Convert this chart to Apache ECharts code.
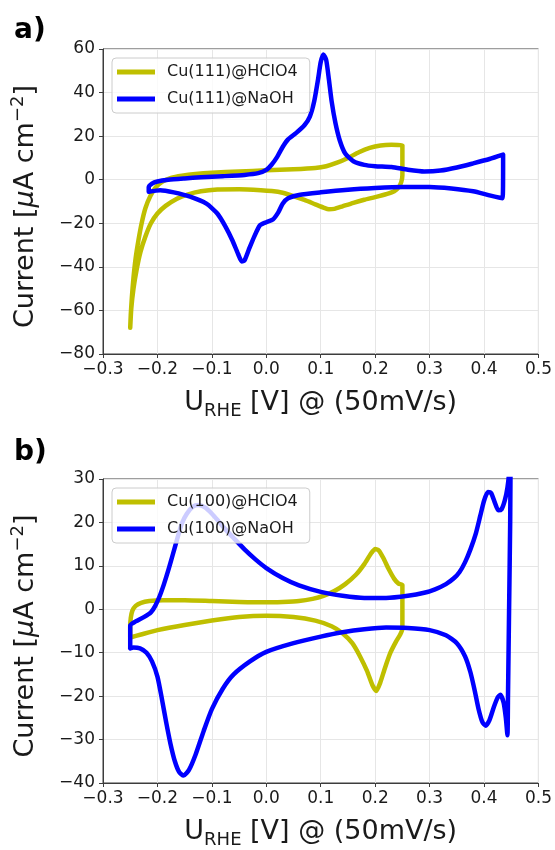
<!DOCTYPE html>
<html>
<head>
<meta charset="utf-8">
<script src="https://cdn.jsdelivr.net/npm/echarts@6/dist/echarts.min.js"></script>
<style>
  html, body { margin: 0; padding: 0; background: #fff; }
  #chart { width: 555px; height: 850px; }
</style>
</head>
<body>
<div id="chart"></div>
<script>
// Cyclic voltammograms of Cu single crystals, potential [V vs RHE] vs current density [µA cm^-2]

// Panel a) Cu(111)
const cu111HClO4 = [
  [-0.250,-68],[-0.249,-62],[-0.247,-54],[-0.244,-45],[-0.240,-36],[-0.235,-28],[-0.229,-20],
  [-0.222,-13],[-0.213,-7.5],[-0.203,-3.5],[-0.190,-0.8],[-0.175,0.8],[-0.155,1.8],[-0.130,2.6],
  [-0.100,3.2],[-0.050,3.8],[0.000,4.3],[0.050,4.8],[0.090,5.4],[0.110,6.2],[0.130,7.8],
  [0.150,10],[0.170,12.6],[0.190,14.6],[0.210,15.7],[0.230,16],[0.250,15.8],[0.250,8],
  [0.250,2],[0.248,-1],[0.243,-3.5],[0.235,-5.3],[0.222,-6.5],[0.200,-8],[0.180,-9.2],
  [0.160,-10.6],[0.140,-12.2],[0.125,-13.4],[0.115,-13.6],[0.105,-12.8],[0.090,-11.3],
  [0.070,-9.3],[0.050,-7.5],[0.030,-6],[0.010,-5.2],[-0.010,-4.8],[-0.050,-4.4],[-0.090,-4.5],
  [-0.120,-5.3],[-0.145,-6.8],[-0.165,-8.8],[-0.185,-12],[-0.200,-15.5],[-0.212,-20],
  [-0.222,-26],[-0.231,-33],[-0.238,-41],[-0.244,-50],[-0.248,-59],[-0.250,-68]
];
const cu111NaOH = [
  [-0.216,-5.5],[-0.216,-3.5],[-0.210,-1.8],[-0.200,-0.8],[-0.180,0],[-0.150,0.6],[-0.120,1.1],
  [-0.080,1.6],[-0.040,2.2],[-0.015,3],[0.000,4.5],[0.010,7],[0.020,10.5],[0.030,15],
  [0.040,18.5],[0.055,21.5],[0.070,25],[0.080,29],[0.088,36],[0.095,46],[0.100,54],
  [0.105,57.5],[0.110,55],[0.115,46],[0.120,36],[0.127,26],[0.135,18],[0.145,12],[0.160,8.5],
  [0.180,6.8],[0.200,6.2],[0.230,5.8],[0.260,4.6],[0.290,3.8],[0.320,4.2],[0.350,5.6],
  [0.380,7.5],[0.410,9.5],[0.435,11.5],[0.435,5],[0.434,-8.5],[0.410,-7.2],[0.380,-5.3],
  [0.340,-4],[0.300,-3.3],[0.250,-3.3],[0.200,-3.8],[0.150,-4.6],[0.100,-5.8],[0.060,-7],
  [0.040,-8.5],[0.030,-11],[0.022,-15],[0.012,-18.3],[0.000,-19.5],[-0.012,-21],[-0.022,-26],
  [-0.032,-32],[-0.040,-37],[-0.045,-37.5],[-0.052,-34],[-0.062,-28],[-0.075,-21.5],
  [-0.090,-15.5],[-0.110,-11],[-0.140,-7.8],[-0.170,-5.8],[-0.195,-4.8],[-0.216,-5.5]
];

// Panel b) Cu(100)
const cu100HClO4 = [
  [-0.250,-6.5],[-0.250,-4],[-0.249,-2],[-0.246,-0.3],[-0.240,0.8],[-0.230,1.5],[-0.215,1.9],
  [-0.190,2.1],[-0.150,2.1],[-0.100,1.9],[-0.050,1.7],[0.000,1.6],[0.030,1.7],[0.060,1.9],
  [0.085,2.4],[0.105,3.1],[0.125,4.2],[0.145,5.8],[0.165,8],[0.180,10.4],[0.192,12.8],
  [0.200,13.9],[0.207,13.5],[0.215,11.8],[0.225,9.2],[0.235,7],[0.243,5.9],[0.250,5.6],
  [0.250,0],[0.250,-4.5],[0.246,-5.8],[0.238,-7.5],[0.228,-10],[0.218,-13.5],[0.209,-17],
  [0.202,-18.8],[0.195,-17.5],[0.185,-14.2],[0.172,-10.8],[0.158,-7.8],[0.140,-5.5],
  [0.120,-3.9],[0.090,-2.6],[0.050,-1.8],[0.000,-1.5],[-0.050,-1.8],[-0.100,-2.6],
  [-0.150,-3.6],[-0.200,-4.8],[-0.230,-5.8],[-0.250,-6.5]
];
const cu100NaOH = [
  [-0.250,-9],[-0.250,-6],[-0.250,-3.7],[-0.240,-2.8],[-0.225,-1.8],[-0.212,-0.7],[-0.204,0.8],
  [-0.196,3],[-0.188,5.8],[-0.180,9],[-0.172,12.5],[-0.163,16.5],[-0.155,19.8],[-0.146,22],
  [-0.135,23.6],[-0.125,24],[-0.112,23.4],[-0.100,22],[-0.088,20.3],[-0.075,18.4],
  [-0.060,16.4],[-0.040,13.8],[-0.020,11.5],[0.000,9.5],[0.030,7.2],[0.060,5.5],[0.100,4],
  [0.140,3.1],[0.180,2.6],[0.220,2.6],[0.260,3.1],[0.290,3.8],[0.310,4.6],[0.330,5.8],
  [0.345,7.2],[0.355,8.6],[0.365,10.8],[0.375,13.8],[0.385,17.5],[0.393,21.5],[0.400,25],
  [0.407,27],[0.413,26.8],[0.420,24.5],[0.426,22.8],[0.432,23],[0.438,25],[0.443,28],
  [0.447,33],[0.449,40],[0.448,20],[0.446,0],[0.444,-20],[0.443,-29],[0.440,-25],
  [0.436,-21.5],[0.430,-19.7],[0.425,-20.3],[0.418,-22.5],[0.410,-25.5],[0.403,-26.8],
  [0.397,-26],[0.390,-23],[0.383,-18.8],[0.375,-14.5],[0.365,-10.8],[0.350,-7.8],[0.330,-6],
  [0.300,-4.8],[0.260,-4.3],[0.220,-4.2],[0.180,-4.6],[0.140,-5.3],[0.100,-6.3],[0.050,-7.8],
  [0.000,-9.8],[-0.030,-12],[-0.060,-15],[-0.080,-18.3],[-0.100,-23],[-0.115,-28],
  [-0.130,-33.5],[-0.142,-37],[-0.152,-38.3],[-0.160,-37.5],[-0.168,-35],[-0.176,-31],
  [-0.184,-26],[-0.192,-20.5],[-0.200,-15.5],[-0.210,-12],[-0.220,-10],[-0.232,-9],
  [-0.244,-8.8],[-0.250,-9]
];

const seriesNamesA = ['Cu(111)@HClO4', 'Cu(111)@NaOH'];
const seriesNamesB = ['Cu(100)@HClO4', 'Cu(100)@NaOH'];
const potentialRange = { min: -0.3, max: 0.5, step: 0.1 };
const currentRangeA = { min: -80, max: 60, step: 20 };
const currentRangeB = { min: -40, max: 30, step: 10 };

const FONT = 'DejaVu Sans';
const INK = '#1a1a1a';
const FRAME = '#3c3c3c';
const OLIVE = '#bfbf00';
const BLUE = '#0000ff';

const minus = s => s.replace('-', '\u2212');
const fmtPotential = v => Math.abs(v) < 1e-9 ? '0.0' : minus(v.toFixed(1));
const fmtCurrent = v => minus(String(Math.round(v)));

const xName = '{m|U}{s|RHE}{m| [V] @ (50mV/s)}';
const yName = '{m|Current [}{i|\u03bc}{m|A cm}{p|\u22122}{m|]}';
const nameRich = {
  m: { fontFamily: FONT, fontSize: 27, color: INK, lineHeight: 34 },
  i: { fontFamily: FONT, fontSize: 27, color: INK, lineHeight: 34, fontStyle: 'italic' },
  s: { fontFamily: FONT, fontSize: 18, color: INK, lineHeight: 18, verticalAlign: 'bottom' },
  p: { fontFamily: FONT, fontSize: 18, color: INK, lineHeight: 18, verticalAlign: 'top' }
};

function xAxisFor(gridIndex) {
  return {
    type: 'value', gridIndex,
    min: potentialRange.min, max: potentialRange.max, interval: potentialRange.step,
    name: xName, nameLocation: 'middle', nameGap: 32,
    nameTextStyle: { rich: nameRich },
    axisLine: { show: true, onZero: false, lineStyle: { color: FRAME, width: 1 } },
    axisTick: { show: true, length: 4, lineStyle: { color: FRAME } },
    axisLabel: { formatter: fmtPotential, fontFamily: FONT, fontSize: 17, color: INK, margin: 7 },
    splitLine: { show: true, lineStyle: { color: '#e6e6e6', width: 1 } }
  };
}
function yAxisFor(gridIndex, range) {
  return {
    type: 'value', gridIndex,
    min: range.min, max: range.max, interval: range.step,
    name: yName, nameLocation: 'middle', nameGap: 60,
    nameTextStyle: { rich: nameRich, padding: [0, 10, 0, 0] },
    axisLine: { show: true, onZero: false, lineStyle: { color: FRAME, width: 1 } },
    axisTick: { show: true, length: 4, lineStyle: { color: FRAME } },
    axisLabel: { formatter: fmtCurrent, fontFamily: FONT, fontSize: 17, color: INK, margin: 8 },
    splitLine: { show: true, lineStyle: { color: '#e6e6e6', width: 1 } }
  };
}
function legendFor(names, top) {
  return {
    data: names, left: 112, top, orient: 'vertical', selectedMode: false,
    icon: 'rect', itemWidth: 38, itemHeight: 5, itemGap: 9,
    padding: [5, 12, 5, 5],
    backgroundColor: 'rgba(255,255,255,0.8)', borderColor: '#cccccc', borderWidth: 1, borderRadius: 4,
    textStyle: { fontFamily: FONT, fontSize: 16, color: INK, lineHeight: 18, padding: [0, 0, 0, 7] }
  };
}
function curve(name, data, color, axisIndex) {
  return {
    name, type: 'line', data, xAxisIndex: axisIndex, yAxisIndex: axisIndex,
    showSymbol: false, symbol: 'none', smooth: 0.2, clip: true,
    lineStyle: { color, width: 4.5, cap: 'round', join: 'round' },
    itemStyle: { color }, animation: false
  };
}

const chart = echarts.init(document.getElementById('chart'), null, { renderer: 'canvas' });
chart.setOption({
  animation: false,
  backgroundColor: '#ffffff',
  grid: [
    { left: 103, top: 49, width: 437, height: 305, show: true, borderColor: FRAME, borderWidth: 1, backgroundColor: 'transparent' },
    { left: 103, top: 479, width: 437, height: 305, show: true, borderColor: FRAME, borderWidth: 1, backgroundColor: 'transparent' }
  ],
  xAxis: [xAxisFor(0), xAxisFor(1)],
  yAxis: [yAxisFor(0, currentRangeA), yAxisFor(1, currentRangeB)],
  legend: [legendFor(seriesNamesA, 58), legendFor(seriesNamesB, 488)],
  graphic: [
    { type: 'text', left: 14, top: 17, style: { text: 'a)', font: 'bold 28px "DejaVu Sans"', fill: '#000' } },
    { type: 'text', left: 14, top: 439, style: { text: 'b)', font: 'bold 28px "DejaVu Sans"', fill: '#000' } }
  ],
  series: [
    curve(seriesNamesA[0], cu111HClO4, OLIVE, 0),
    curve(seriesNamesA[1], cu111NaOH, BLUE, 0),
    curve(seriesNamesB[0], cu100HClO4, OLIVE, 1),
    curve(seriesNamesB[1], cu100NaOH, BLUE, 1)
  ]
});
</script>
</body>
</html>
